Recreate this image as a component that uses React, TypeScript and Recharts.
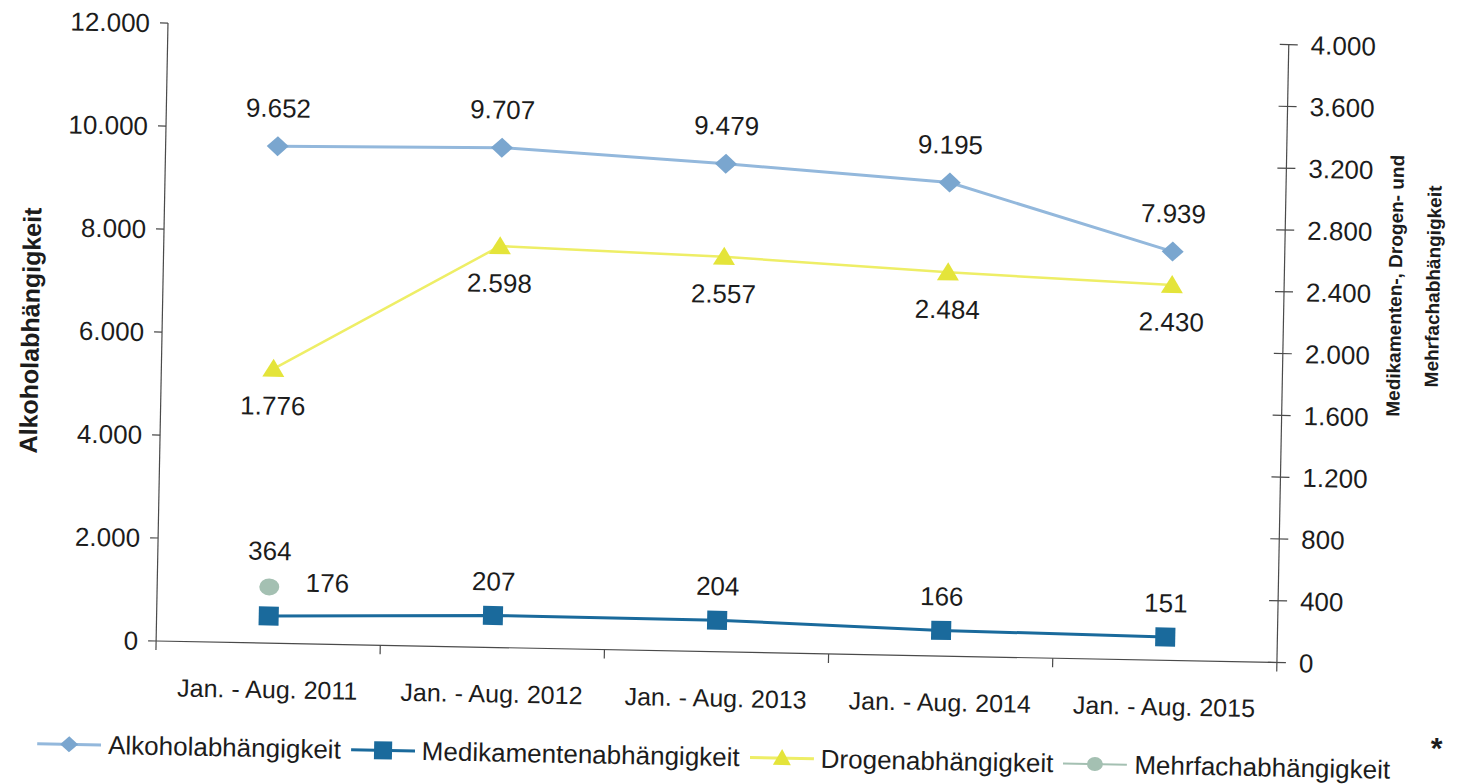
import React from 'react';
import { LineChart, Line, XAxis, YAxis, Legend, LabelList } from 'recharts';

// Zeiträume und Fallzahlen
const categories = ['Jan. - Aug. 2011', 'Jan. - Aug. 2012', 'Jan. - Aug. 2013', 'Jan. - Aug. 2014', 'Jan. - Aug. 2015'];
const alkohol = [9652, 9707, 9479, 9195, 7939];
const medikamente = [176, 207, 204, 166, 151];
const drogen = [1776, 2598, 2557, 2484, 2430];
const mehrfach = [364, null, null, null, null];
const leftTicks = [0, 2000, 4000, 6000, 8000, 10000, 12000];
const rightTicks = [0, 400, 800, 1200, 1600, 2000, 2400, 2800, 3200, 3600, 4000];

const W = 1464;
const H = 784;
const PLOT_LEFT = 161;
const PLOT_RIGHT = 1282;
const PLOT_TOP = 34;
const PLOT_BOTTOM = 652;
const BAND = (PLOT_RIGHT - PLOT_LEFT) / categories.length;
const X_AXIS_H = 80;

const FONT = '"Liberation Sans", Arial, Helvetica, sans-serif';
const TEXT = '#1c1c1c';
const AXIS = '#4a4a4a';
const ALK_LINE = '#93b8dc';
const ALK_MARK = '#7aa6cf';
const MED = '#1a6a9c';
const DRO_LINE = '#eeee66';
const DRO_MARK = '#e4e43a';
const MEH = '#a4c0b2';

const data = categories.map((cat, i) => ({
  cat,
  alkohol: alkohol[i],
  medikamente: medikamente[i],
  drogen: drogen[i],
  mehrfach: mehrfach[i],
}));

// 9652 -> "9.652"
const fmt = (v: number) => String(v).replace(/\B(?=(\d{3})+(?!\d))/g, '.');

const Diamond = ({ cx, cy, index }: any) =>
  cx == null || cy == null ? null : (
    <polygon key={`d${index}`} points={`${cx},${cy - 10} ${cx + 11},${cy} ${cx},${cy + 10} ${cx - 11},${cy}`} fill={ALK_MARK} />
  );

const Square = ({ cx, cy, index }: any) =>
  cx == null || cy == null ? null : <rect key={`s${index}`} x={cx - 10} y={cy - 9.5} width={20} height={19} fill={MED} />;

const Triangle = ({ cx, cy, index }: any) =>
  cx == null || cy == null ? null : (
    <polygon key={`t${index}`} points={`${cx},${cy - 10} ${cx + 11},${cy + 8} ${cx - 11},${cy + 8}`} fill={DRO_MARK} />
  );

const Dot = ({ cx, cy, index }: any) =>
  cx == null || cy == null ? null : <ellipse key={`c${index}`} cx={cx} cy={cy} rx={10} ry={8.5} fill={MEH} />;

// Datenbeschriftung mit Versatz (dx, dy zur Grundlinie)
const makeLabel = (dy: number, dxFirst = 0) => (props: any) => {
  const { x, y, value, index } = props;
  if (value == null || x == null || y == null) return null;
  return (
    <text x={x + (index === 0 ? dxFirst : 0)} y={y + dy} textAnchor="middle" fontSize={26} fontFamily={FONT} fill={TEXT}>
      {fmt(value)}
    </text>
  );
};

const CatTick = (props: any) => {
  const { x, payload, index } = props;
  return (
    <g>
      <text x={x} y={PLOT_BOTTOM + 55} textAnchor="middle" fontSize={25} fontFamily={FONT} fill={TEXT}>
        {payload.value}
      </text>
      <line x1={x + BAND / 2} x2={x + BAND / 2} y1={PLOT_BOTTOM} y2={PLOT_BOTTOM + 9} stroke={AXIS} strokeWidth={1.2} />
      {index === 0 && <line x1={x - BAND / 2} x2={x - BAND / 2} y1={PLOT_BOTTOM} y2={PLOT_BOTTOM + 9} stroke={AXIS} strokeWidth={1.2} />}
    </g>
  );
};

const RightTick = (props: any) => {
  const { x, y, payload } = props;
  return (
    <g>
      <line x1={PLOT_RIGHT - 9} x2={PLOT_RIGHT + 9} y1={y} y2={y} stroke={AXIS} strokeWidth={1.2} />
      <text x={x} y={y} dy="0.355em" textAnchor="start" fontSize={26} fontFamily={FONT} fill={TEXT}>
        {fmt(payload.value)}
      </text>
    </g>
  );
};

const legendItems = [
  { name: 'Alkoholabhängigkeit', color: ALK_LINE, marker: 'diamond' },
  { name: 'Medikamentenabhängigkeit', color: MED, marker: 'square' },
  { name: 'Drogenabhängigkeit', color: DRO_LINE, marker: 'triangle' },
  { name: 'Mehrfachabhängigkeit', color: MEH, marker: 'circle' },
];

const LegendIcon = ({ marker, color }: { marker: string; color: string }) => (
  <svg width={64} height={24} style={{ flex: 'none' }}>
    <line x1={0} x2={64} y1={12} y2={12} stroke={color} strokeWidth={marker === 'circle' ? 2 : 3} />
    {marker === 'diamond' && <polygon points="32,4 41,12 32,20 23,12" fill={ALK_MARK} />}
    {marker === 'square' && <rect x={23} y={3} width={18} height={18} fill={MED} />}
    {marker === 'triangle' && <polygon points="32,3 41,19 23,19" fill={DRO_MARK} />}
    {marker === 'circle' && <ellipse cx={32} cy={12} rx={8} ry={7} fill={MEH} />}
  </svg>
);

const LegendContent = () => (
  <div style={{ display: 'flex', alignItems: 'center', paddingLeft: 44, fontFamily: FONT, fontSize: 26, color: TEXT, whiteSpace: 'nowrap' }}>
    {legendItems.map((it, i) => (
      <div key={it.name} style={{ display: 'flex', alignItems: 'center', marginLeft: i === 0 ? 0 : 10 }}>
        <LegendIcon marker={it.marker} color={it.color} />
        <span style={{ marginLeft: 7 }}>{it.name}</span>
      </div>
    ))}
    <span style={{ marginLeft: 40, position: 'relative', top: -22, fontSize: 30, fontWeight: 'bold' }}>*</span>
  </div>
);

export default function App() {
  return (
    <div
      style={{
        position: 'absolute',
        left: 0,
        top: 0,
        width: W,
        height: H,
        background: '#fff',
        transform: 'rotate(1.1deg)',
        transformOrigin: `${W / 2}px ${H / 2}px`,
      }}
    >
      <LineChart
        width={W}
        height={H}
        data={data}
        margin={{ top: PLOT_TOP, right: 0, left: 0, bottom: H - PLOT_BOTTOM - X_AXIS_H }}
      >
        <XAxis
          dataKey="cat"
          type="category"
          interval={0}
          height={X_AXIS_H}
          padding={{ left: BAND / 2, right: BAND / 2 }}
          axisLine={{ stroke: AXIS, strokeWidth: 1.2 }}
          tickLine={false}
          tick={<CatTick />}
        />
        <YAxis
          yAxisId="left"
          orientation="left"
          width={PLOT_LEFT}
          domain={[0, 12000]}
          ticks={leftTicks}
          interval={0}
          tickFormatter={fmt}
          tickSize={8}
          tickMargin={10}
          axisLine={{ stroke: AXIS, strokeWidth: 1.2 }}
          tickLine={{ stroke: AXIS, strokeWidth: 1.2 }}
          tick={{ fontSize: 26, fontFamily: FONT, fill: TEXT }}
          label={{
            content: () => (
              <text
                x={29}
                y={344}
                transform="rotate(-90 29 344)"
                textAnchor="middle"
                dominantBaseline="central"
                fontSize={25}
                fontWeight="bold"
                fontFamily={FONT}
                fill={TEXT}
              >
                Alkoholabhängigkeit
              </text>
            ),
          }}
        />
        <YAxis
          yAxisId="right"
          orientation="right"
          width={W - PLOT_RIGHT}
          domain={[0, 4000]}
          ticks={rightTicks}
          interval={0}
          tickSize={9}
          tickMargin={13}
          axisLine={{ stroke: AXIS, strokeWidth: 1.2 }}
          tickLine={false}
          tick={<RightTick />}
          label={{
            content: () => (
              <g fontSize={19} fontWeight="bold" fontFamily={FONT} fill={TEXT}>
                <text x={1393} y={273} transform="rotate(-90 1393 273)" textAnchor="middle" dominantBaseline="central">
                  Medikamenten-, Drogen- und
                </text>
                <text x={1431} y={273} transform="rotate(-90 1431 273)" textAnchor="middle" dominantBaseline="central">
                  Mehrfachabhängigkeit
                </text>
              </g>
            ),
          }}
        />
        <Legend
          layout="horizontal"
          verticalAlign="middle"
          align="center"
          wrapperStyle={{ top: 740, left: 0, width: W, height: 34 }}
          content={<LegendContent />}
        />
        <Line
          yAxisId="left"
          dataKey="alkohol"
          name="Alkoholabhängigkeit"
          type="linear"
          stroke={ALK_LINE}
          strokeWidth={3}
          dot={Diamond}
          activeDot={false}
          isAnimationActive={false}
        >
          <LabelList dataKey="alkohol" content={makeLabel(-29)} />
        </Line>
        <Line
          yAxisId="right"
          dataKey="medikamente"
          name="Medikamentenabhängigkeit"
          type="linear"
          stroke={MED}
          strokeWidth={3}
          dot={Square}
          activeDot={false}
          isAnimationActive={false}
        >
          <LabelList dataKey="medikamente" content={makeLabel(-25, 58)} />
        </Line>
        <Line
          yAxisId="right"
          dataKey="drogen"
          name="Drogenabhängigkeit"
          type="linear"
          stroke={DRO_LINE}
          strokeWidth={2.5}
          dot={Triangle}
          activeDot={false}
          isAnimationActive={false}
        >
          <LabelList dataKey="drogen" content={makeLabel(46)} />
        </Line>
        <Line
          yAxisId="right"
          dataKey="mehrfach"
          name="Mehrfachabhängigkeit"
          type="linear"
          stroke={MEH}
          strokeWidth={2}
          dot={Dot}
          activeDot={false}
          isAnimationActive={false}
        >
          <LabelList dataKey="mehrfach" content={makeLabel(-27)} />
        </Line>
      </LineChart>
    </div>
  );
}
